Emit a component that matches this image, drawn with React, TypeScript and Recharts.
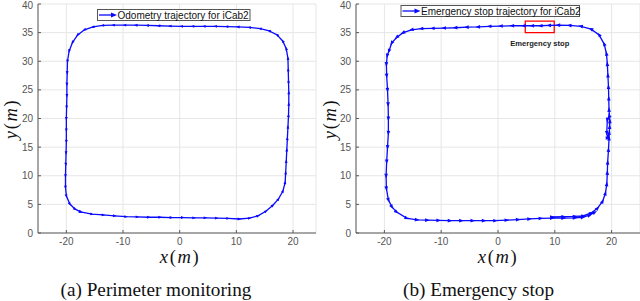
import React from 'react';
import { LineChart, Line, XAxis, YAxis, CartesianGrid, ReferenceArea } from 'recharts';

// (a) Perimeter monitoring — odometry trajectory (counter-clockwise)
const odometryX = [-17.5, -15.5, -13.5, -11.5, -9.5, -7.5, -5.5, -3.5, -1.5, 0.5, 2.5, 4.5, 6.5, 8.5, 10.5, 12.3, 13.8, 15.2, 16.4, 17.4, 18.2, 18.6, 18.7, 18.8, 18.9, 19.0, 19.1, 19.2, 19.25, 19.25, 19.2, 19.15, 19.1, 18.8, 18.2, 17.2, 15.8, 14.2, 12.3, 10.3, 8.3, 6.3, 4.3, 2.3, 0.3, -1.7, -3.7, -5.7, -7.7, -9.7, -11.7, -13.6, -15.3, -16.8, -18.0, -18.9, -19.5, -19.8, -19.85, -19.9, -19.9, -19.95, -20.0, -20.0, -20.0, -20.05, -20.1, -20.15, -20.15, -20.0, -19.4, -18.5, -17.5];
const odometryY = [3.7, 3.3, 3.15, 3.0, 2.85, 2.8, 2.75, 2.75, 2.7, 2.7, 2.65, 2.65, 2.6, 2.55, 2.45, 2.6, 3.0, 3.8, 4.8, 5.9, 7.3, 8.8, 10.5, 12.5, 14.5, 16.5, 18.5, 20.5, 22.5, 24.5, 26.5, 28.5, 30.5, 32.2, 33.5, 34.6, 35.3, 35.7, 35.9, 36.0, 36.05, 36.1, 36.1, 36.1, 36.1, 36.15, 36.2, 36.25, 36.3, 36.3, 36.3, 36.25, 36.0, 35.5, 34.6, 33.3, 31.8, 30.0, 28, 26, 24, 22, 20, 18, 16, 14, 12, 10, 8, 6.5, 5.1, 4.2, 3.7];

// (b) Emergency stop trajectory (counter-clockwise)
const stopX = [9.5, 11.5, 13.5, 15.0, 16.4, 17.5, 18.4, 18.9, 19.15, 19.25, 19.3, 19.45, 19.55, 19.65, 19.6, 19.25, 19.15, 19.3, 19.6, 19.7, 19.55, 19.5, 19.45, 19.35, 19.25, 19.1, 18.7, 17.8, 16.4, 14.6, 12.6, 10.6, 9.0, 7.5, 6.0, 4.5, 2.5, 0.5, -1.5, -3.5, -5.5, -7.5, -9.5, -11.5, -13.5, -15.2, -16.7, -17.8, -18.7, -19.2, -19.5, -19.65, -19.6, -19.45, -19.35, -19.3, -19.3, -19.45, -19.6, -19.7, -19.65, -19.3, -18.7, -17.9, -16.1, -14.3, -12.5, -10.5, -8.5, -6.5, -4.5, -2.5, -0.5, 1.5, 3.5, 5.5, 7.5, 9.5, 11.5, 13.5, 14.9, 16.1, 17.0];
const stopY = [2.8, 2.85, 2.9, 3.0, 3.5, 4.3, 5.5, 6.9, 8.5, 10.5, 12.3, 14.5, 16.5, 18.5, 20.5, 19.8, 17.5, 16.6, 17.5, 19.5, 21.5, 23.5, 25.5, 27.5, 29.5, 31.3, 33.0, 34.6, 35.6, 36.1, 36.25, 36.3, 36.25, 36.2, 36.2, 36.2, 36.2, 36.15, 36.1, 36.0, 35.95, 35.85, 35.8, 35.75, 35.7, 35.5, 35.0, 34.2, 33.2, 31.8, 31.0, 29.5, 27.5, 25.0, 22.5, 20.0, 17.5, 15.0, 12.5, 10.0, 7.8, 5.8, 4.6, 3.7, 2.6, 2.3, 2.25, 2.2, 2.15, 2.15, 2.15, 2.15, 2.15, 2.25, 2.35, 2.45, 2.55, 2.6, 2.6, 2.65, 2.75, 3.1, 3.6];

const xTicks = [-20, -10, 0, 10, 20];
const yTicks = [0, 5, 10, 15, 20, 25, 30, 35, 40];

const legendA = 'Odometry trajectory for iCab2';
const legendB = 'Emergency stop trajectory for iCab2';
const captionA = 'Perimeter monitoring';
const captionB = 'Emergency stop';
const stopLabel = 'Emergency stop';
const stopBox = { x1: 4.8, x2: 9.9, y1: 35, y2: 37 };

type Pt = { x: number; y: number };
const toPts = (xs: number[], ys: number[]): Pt[] => xs.map((x, i) => ({ x, y: ys[i] }));
const dataA = toPts(odometryX, odometryY);
const dataB = toPts(stopX, stopY);

const BLUE = '#0a0aff';
const tickStyle = { fontSize: 10, fill: '#555', fontFamily: 'Liberation Sans, Arial, sans-serif' };

const makeDot = (data: Pt[], s: number) => (props: any) => {
  const { cx, cy, index } = props;
  if (cx == null || cy == null) return <g key={`n${index}`} />;
  const a = data[Math.max(index - 1, 0)];
  const b = data[Math.min(index + 1, data.length - 1)];
  const ang = (Math.atan2(-(b.y - a.y), b.x - a.x) * 180) / Math.PI;
  return (
    <path
      key={`d${index}`}
      transform={`translate(${cx},${cy}) rotate(${ang})`}
      d={`M${s} 0 L${-s * 0.7} ${s * 0.65} L${-s * 0.7} ${-s * 0.65} Z`}
      fill={BLUE}
    />
  );
};

function Panel(props: {
  data: Pt[];
  xMax: number;
  marginLeft: number;
  marginRight: number;
  arrow: number;
  withBox?: boolean;
}) {
  const { data, xMax, marginLeft, marginRight, arrow, withBox } = props;
  return (
    <LineChart width={320} height={301} margin={{ top: 4, right: marginRight, left: marginLeft, bottom: 48 }}>
      <CartesianGrid stroke="#e6e6e6" />
      <XAxis
        type="number"
        dataKey="x"
        domain={[-25, xMax]}
        ticks={xTicks}
        allowDataOverflow
        height={20}
        tick={tickStyle}
        tickSize={-3}
        tickMargin={8}
        stroke="#5a5a5a"
      />
      <YAxis
        type="number"
        dataKey="y"
        domain={[0, 40]}
        ticks={yTicks}
        allowDataOverflow
        width={30}
        tick={tickStyle}
        tickSize={-3}
        tickMargin={8}
        stroke="#5a5a5a"
      />
      {withBox && (
        <ReferenceArea
          x1={stopBox.x1}
          x2={stopBox.x2}
          y1={stopBox.y1}
          y2={stopBox.y2}
          fill="none"
          stroke="#ff0000"
          strokeWidth={1.3}
          label={{
            value: stopLabel,
            position: 'bottom',
            offset: 8,
            fill: '#222',
            fontSize: 7.6,
            fontWeight: 'bold',
            fontFamily: 'Liberation Sans, Arial, sans-serif',
          }}
        />
      )}
      <Line
        data={data}
        dataKey="y"
        stroke={BLUE}
        strokeWidth={1.3}
        dot={makeDot(data, arrow)}
        activeDot={false}
        isAnimationActive={false}
      />
    </LineChart>
  );
}

const serif = 'Liberation Serif, Times New Roman, serif';

function MathLabel({ v, x, y, rotate }: { v: string; x: number; y: number; rotate?: boolean }) {
  return (
    <text
      x={x}
      y={y}
      textAnchor="middle"
      fontFamily={serif}
      fontSize={18.5}
      letterSpacing={1.6}
      fill="#111"
      transform={rotate ? `rotate(-90 ${x} ${y})` : undefined}
    >
      <tspan fontStyle="italic">{v}</tspan>
      <tspan>(</tspan>
      <tspan fontStyle="italic">m</tspan>
      <tspan>)</tspan>
    </text>
  );
}

function LegendBox({ x, y, w, text }: { x: number; y: number; w: number; text: string }) {
  const cy = y + 5.5;
  return (
    <g>
      <rect x={x + 0.5} y={y + 0.5} width={w} height={11} fill="#fff" stroke="#555" strokeWidth={1} />
      <line x1={x + 2} y1={cy + 0.5} x2={x + 16} y2={cy + 0.5} stroke={BLUE} strokeWidth={1.3} />
      <path d={`M${x + 20} ${cy + 0.5} L${x + 14} ${cy - 2} L${x + 14} ${cy + 3} Z`} fill={BLUE} />
      <text x={x + 20.5} y={cy + 4.2} fontFamily="Liberation Sans, Arial, sans-serif" fontSize={10} fill="#111">
        {text}
      </text>
    </g>
  );
}

export default function App() {
  return (
    <div style={{ position: 'absolute', left: 0, top: 0, width: 640, height: 301, background: '#fff', overflow: 'hidden' }}>
      <div style={{ position: 'absolute', left: 0, top: 0 }}>
        <Panel data={dataA} xMax={24.05} marginLeft={8} marginRight={4} arrow={2.2} />
      </div>
      <div style={{ position: 'absolute', left: 320, top: 0 }}>
        <Panel data={dataB} xMax={25} marginLeft={6} marginRight={0} arrow={2.8} withBox />
      </div>
      <svg width={640} height={301} style={{ position: 'absolute', left: 0, top: 0, pointerEvents: 'none' }}>
        <LegendBox x={97} y={9} w={152.5} text={legendA} />
        <LegendBox x={400.5} y={5} w={178.5} text={legendB} />
        <MathLabel v="x" x={180} y={263} />
        <MathLabel v="x" x={498} y={263} />
        <MathLabel v="y" x={17} y={119} rotate />
        <MathLabel v="y" x={336} y={119} rotate />
        <text x={156} y={295.5} textAnchor="middle" fontFamily={serif} fontSize={19.2} fill="#111">
          (a) {captionA}
        </text>
        <text x={478.5} y={295.5} textAnchor="middle" fontFamily={serif} fontSize={19.2} fill="#111">
          (b) {captionB}
        </text>
      </svg>
    </div>
  );
}
